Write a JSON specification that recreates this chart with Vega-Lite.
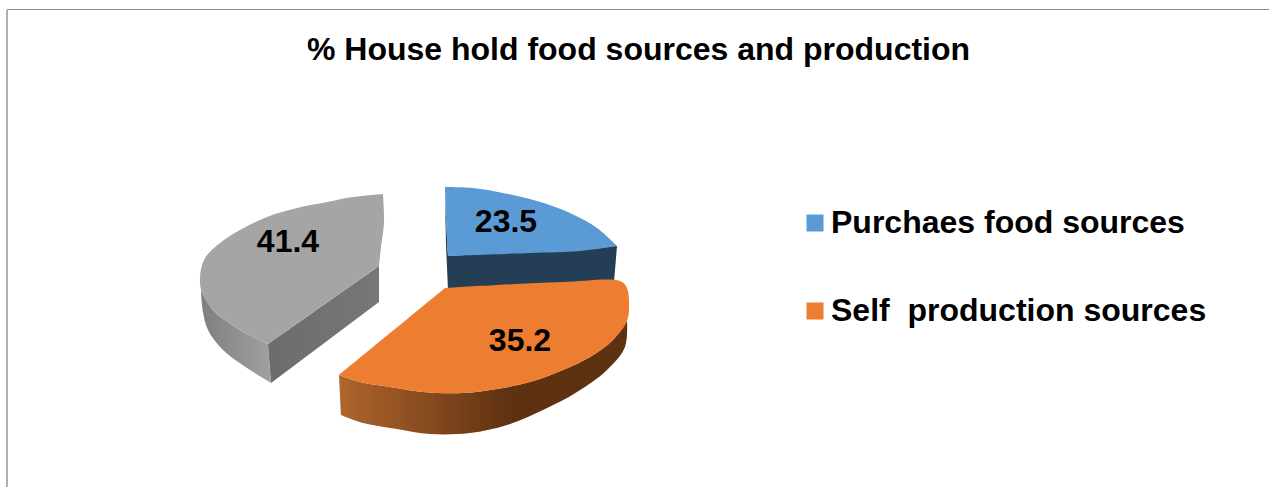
{
  "$schema": "https://vega.github.io/schema/vega-lite/v6.json",
  "width": 1269,
  "height": 487,
  "padding": 0,
  "autosize": "none",
  "background": "#ffffff",
  "view": {"stroke": null},
  "title": {
    "text": "% House hold food sources and production",
    "anchor": "middle",
    "font": "Liberation Sans",
    "fontSize": 32,
    "fontWeight": "bold",
    "color": "#000000",
    "frame": "group",
    "offset": 0,
    "dx": 4,
    "dy": 67
  },
  "datasets": {
    "frame": [
      {"x": 7, "y": 10, "y2": 487},
      {"x": 7, "x2": 1269, "y": 9.5}
    ],
    "slices": [
      {"source": "Purchaes food sources", "value": 23.5, "x": 506, "y": 222},
      {"source": "Self  production sources", "value": 35.2, "x": 520, "y": 341},
      {"source": "Other", "value": 41.4, "x": 288, "y": 242}
    ],
    "outlines": [
      {"source": "Other", "face": "outer", "i": 1, "x": 201, "y": 290},
      {"source": "Other", "face": "outer", "i": 2, "x": 213, "y": 310},
      {"source": "Other", "face": "outer", "i": 3, "x": 240, "y": 330},
      {"source": "Other", "face": "outer", "i": 4, "x": 268, "y": 344},
      {"source": "Other", "face": "outer", "i": 5, "x": 268, "y": 344},
      {"source": "Other", "face": "outer", "i": 6, "x": 271, "y": 383},
      {"source": "Other", "face": "outer", "i": 7, "x": 271, "y": 383},
      {"source": "Other", "face": "outer", "i": 8, "x": 247, "y": 368},
      {"source": "Other", "face": "outer", "i": 9, "x": 223, "y": 350},
      {"source": "Other", "face": "outer", "i": 10, "x": 208, "y": 330},
      {"source": "Other", "face": "outer", "i": 11, "x": 203, "y": 312},
      {"source": "Other", "face": "outer", "i": 12, "x": 201, "y": 290},

      {"source": "Other", "face": "cut", "i": 1, "x": 268, "y": 344},
      {"source": "Other", "face": "cut", "i": 2, "x": 379, "y": 266},
      {"source": "Other", "face": "cut", "i": 3, "x": 379, "y": 302},
      {"source": "Other", "face": "cut", "i": 4, "x": 271, "y": 383},

      {"source": "Other", "face": "top", "i": 1, "x": 383, "y": 194},
      {"source": "Other", "face": "top", "i": 2, "x": 383, "y": 194},
      {"source": "Other", "face": "top", "i": 3, "x": 353, "y": 197},
      {"source": "Other", "face": "top", "i": 4, "x": 327, "y": 202},
      {"source": "Other", "face": "top", "i": 5, "x": 297, "y": 208},
      {"source": "Other", "face": "top", "i": 6, "x": 267, "y": 217},
      {"source": "Other", "face": "top", "i": 7, "x": 240, "y": 230},
      {"source": "Other", "face": "top", "i": 8, "x": 220, "y": 243},
      {"source": "Other", "face": "top", "i": 9, "x": 205, "y": 258},
      {"source": "Other", "face": "top", "i": 10, "x": 200, "y": 277},
      {"source": "Other", "face": "top", "i": 11, "x": 202, "y": 293},
      {"source": "Other", "face": "top", "i": 12, "x": 213, "y": 310},
      {"source": "Other", "face": "top", "i": 13, "x": 240, "y": 330},
      {"source": "Other", "face": "top", "i": 14, "x": 268, "y": 344},
      {"source": "Other", "face": "top", "i": 15, "x": 268, "y": 344},
      {"source": "Other", "face": "top", "i": 16, "x": 379, "y": 266},
      {"source": "Other", "face": "top", "i": 17, "x": 379, "y": 266},
      {"source": "Other", "face": "top", "i": 18, "x": 381, "y": 247},
      {"source": "Other", "face": "top", "i": 19, "x": 384, "y": 223},
      {"source": "Other", "face": "top", "i": 20, "x": 383, "y": 194},

      {"source": "Purchaes food sources", "face": "cut", "i": 1, "x": 445, "y": 200},
      {"source": "Purchaes food sources", "face": "cut", "i": 2, "x": 448, "y": 256},
      {"source": "Purchaes food sources", "face": "cut", "i": 3, "x": 617, "y": 246},
      {"source": "Purchaes food sources", "face": "cut", "i": 4, "x": 614, "y": 282},
      {"source": "Purchaes food sources", "face": "cut", "i": 5, "x": 448, "y": 290},
      {"source": "Purchaes food sources", "face": "cut", "i": 6, "x": 446, "y": 245},

      {"source": "Purchaes food sources", "face": "top", "i": 1, "x": 445, "y": 187},
      {"source": "Purchaes food sources", "face": "top", "i": 2, "x": 445, "y": 187},
      {"source": "Purchaes food sources", "face": "top", "i": 3, "x": 473, "y": 188},
      {"source": "Purchaes food sources", "face": "top", "i": 4, "x": 503, "y": 193},
      {"source": "Purchaes food sources", "face": "top", "i": 5, "x": 537, "y": 201},
      {"source": "Purchaes food sources", "face": "top", "i": 6, "x": 570, "y": 213},
      {"source": "Purchaes food sources", "face": "top", "i": 7, "x": 597, "y": 228},
      {"source": "Purchaes food sources", "face": "top", "i": 8, "x": 617, "y": 246},
      {"source": "Purchaes food sources", "face": "top", "i": 9, "x": 617, "y": 246},
      {"source": "Purchaes food sources", "face": "top", "i": 10, "x": 580, "y": 251},
      {"source": "Purchaes food sources", "face": "top", "i": 11, "x": 530, "y": 253},
      {"source": "Purchaes food sources", "face": "top", "i": 12, "x": 448, "y": 256},
      {"source": "Purchaes food sources", "face": "top", "i": 13, "x": 448, "y": 256},
      {"source": "Purchaes food sources", "face": "top", "i": 14, "x": 446, "y": 220},
      {"source": "Purchaes food sources", "face": "top", "i": 15, "x": 445, "y": 187},

      {"source": "Self  production sources", "face": "outer", "i": 1, "x": 339, "y": 375},
      {"source": "Self  production sources", "face": "outer", "i": 2, "x": 339, "y": 375},
      {"source": "Self  production sources", "face": "outer", "i": 3, "x": 360, "y": 382},
      {"source": "Self  production sources", "face": "outer", "i": 4, "x": 390, "y": 387},
      {"source": "Self  production sources", "face": "outer", "i": 5, "x": 423, "y": 392},
      {"source": "Self  production sources", "face": "outer", "i": 6, "x": 463, "y": 393},
      {"source": "Self  production sources", "face": "outer", "i": 7, "x": 497, "y": 389},
      {"source": "Self  production sources", "face": "outer", "i": 8, "x": 530, "y": 382},
      {"source": "Self  production sources", "face": "outer", "i": 9, "x": 563, "y": 370},
      {"source": "Self  production sources", "face": "outer", "i": 10, "x": 590, "y": 357},
      {"source": "Self  production sources", "face": "outer", "i": 11, "x": 613, "y": 340},
      {"source": "Self  production sources", "face": "outer", "i": 12, "x": 627, "y": 321},
      {"source": "Self  production sources", "face": "outer", "i": 13, "x": 627, "y": 321},
      {"source": "Self  production sources", "face": "outer", "i": 14, "x": 625, "y": 347},
      {"source": "Self  production sources", "face": "outer", "i": 15, "x": 607, "y": 370},
      {"source": "Self  production sources", "face": "outer", "i": 16, "x": 577, "y": 392},
      {"source": "Self  production sources", "face": "outer", "i": 17, "x": 543, "y": 410},
      {"source": "Self  production sources", "face": "outer", "i": 18, "x": 507, "y": 425},
      {"source": "Self  production sources", "face": "outer", "i": 19, "x": 470, "y": 433},
      {"source": "Self  production sources", "face": "outer", "i": 20, "x": 430, "y": 434},
      {"source": "Self  production sources", "face": "outer", "i": 21, "x": 397, "y": 429},
      {"source": "Self  production sources", "face": "outer", "i": 22, "x": 363, "y": 423},
      {"source": "Self  production sources", "face": "outer", "i": 23, "x": 341, "y": 415},
      {"source": "Self  production sources", "face": "outer", "i": 24, "x": 341, "y": 415},
      {"source": "Self  production sources", "face": "outer", "i": 25, "x": 339, "y": 375},

      {"source": "Self  production sources", "face": "top", "i": 1, "x": 445, "y": 288},
      {"source": "Self  production sources", "face": "top", "i": 2, "x": 445, "y": 288},
      {"source": "Self  production sources", "face": "top", "i": 3, "x": 497, "y": 285},
      {"source": "Self  production sources", "face": "top", "i": 4, "x": 563, "y": 282},
      {"source": "Self  production sources", "face": "top", "i": 5, "x": 620, "y": 281},
      {"source": "Self  production sources", "face": "top", "i": 6, "x": 627, "y": 288},
      {"source": "Self  production sources", "face": "top", "i": 7, "x": 629, "y": 303},
      {"source": "Self  production sources", "face": "top", "i": 8, "x": 627, "y": 321},
      {"source": "Self  production sources", "face": "top", "i": 9, "x": 613, "y": 340},
      {"source": "Self  production sources", "face": "top", "i": 10, "x": 590, "y": 357},
      {"source": "Self  production sources", "face": "top", "i": 11, "x": 563, "y": 370},
      {"source": "Self  production sources", "face": "top", "i": 12, "x": 530, "y": 382},
      {"source": "Self  production sources", "face": "top", "i": 13, "x": 497, "y": 389},
      {"source": "Self  production sources", "face": "top", "i": 14, "x": 463, "y": 393},
      {"source": "Self  production sources", "face": "top", "i": 15, "x": 423, "y": 392},
      {"source": "Self  production sources", "face": "top", "i": 16, "x": 390, "y": 387},
      {"source": "Self  production sources", "face": "top", "i": 17, "x": 360, "y": 382},
      {"source": "Self  production sources", "face": "top", "i": 18, "x": 339, "y": 375},
      {"source": "Self  production sources", "face": "top", "i": 19, "x": 339, "y": 375},
      {"source": "Self  production sources", "face": "top", "i": 20, "x": 445, "y": 288}
    ]
  },
  "encoding": {
    "x": {"field": "x", "type": "quantitative", "axis": null, "scale": {"domain": [0, 1269], "nice": false, "zero": false}},
    "y": {"field": "y", "type": "quantitative", "axis": null, "scale": {"domain": [487, 0], "nice": false, "zero": false}}
  },
  "layer": [
    {
      "data": {"name": "outlines"},
      "transform": [{"filter": "datum.source === 'Other' && datum.face === 'outer'"}],
      "mark": {
        "type": "line", "filled": true, "strokeWidth": 0, "interpolate": "catmull-rom",
        "fill": {"gradient": "linear", "x1": 0, "y1": 0, "x2": 1, "y2": 0,
          "stops": [{"offset": 0, "color": "#7f7f7f"}, {"offset": 1, "color": "#a0a0a0"}]}
      },
      "encoding": {"order": {"field": "i", "type": "quantitative"}}
    },
    {
      "data": {"name": "outlines"},
      "transform": [{"filter": "datum.source === 'Other' && datum.face === 'cut'"}],
      "mark": {
        "type": "line", "filled": true, "strokeWidth": 0,
        "fill": {"gradient": "linear", "x1": 0, "y1": 0, "x2": 1, "y2": 0,
          "stops": [{"offset": 0, "color": "#6c6c6c"}, {"offset": 1, "color": "#777777"}]}
      },
      "encoding": {"order": {"field": "i", "type": "quantitative"}}
    },
    {
      "data": {"name": "outlines"},
      "transform": [{"filter": "datum.source === 'Purchaes food sources' && datum.face === 'cut'"}],
      "mark": {"type": "line", "filled": true, "strokeWidth": 0, "fill": "#243f55"},
      "encoding": {"order": {"field": "i", "type": "quantitative"}}
    },
    {
      "data": {"name": "outlines"},
      "transform": [{"filter": "datum.source === 'Self  production sources' && datum.face === 'outer'"}],
      "mark": {
        "type": "line", "filled": true, "strokeWidth": 0, "interpolate": "catmull-rom",
        "fill": {"gradient": "linear", "x1": 0, "y1": 0, "x2": 1, "y2": 0,
          "stops": [{"offset": 0, "color": "#b0652c"}, {"offset": 0.6, "color": "#5e3111"}, {"offset": 1, "color": "#5e3111"}]}
      },
      "encoding": {"order": {"field": "i", "type": "quantitative"}}
    },
    {
      "data": {"name": "outlines"},
      "transform": [{"filter": "datum.face === 'top'"}],
      "mark": {"type": "line", "filled": true, "strokeWidth": 0, "interpolate": "catmull-rom"},
      "encoding": {
        "order": {"field": "i", "type": "quantitative"},
        "color": {
          "field": "source",
          "type": "nominal",
          "scale": {
            "domain": ["Purchaes food sources", "Self  production sources", "Other"],
            "range": ["#5b9bd5", "#ed7d31", "#a5a5a5"]
          },
          "legend": {
            "values": ["Purchaes food sources", "Self  production sources"],
            "labelExpr": "replace(datum.label, '  ', ' \u00a0')",
            "title": null,
            "orient": "none",
            "legendX": 799,
            "legendY": 205,
            "symbolType": "square",
            "symbolSize": 289,
            "symbolStrokeWidth": 0,
            "labelFont": "Liberation Sans",
            "labelFontSize": 32,
            "labelFontWeight": "bold",
            "labelColor": "#000000",
            "labelLimit": 460,
            "labelOffset": 0,
            "rowPadding": 52,
            "clipHeight": 36
          }
        }
      }
    },
    {
      "data": {"name": "slices"},
      "mark": {"type": "text", "font": "Liberation Sans", "fontSize": 32, "fontWeight": "bold", "color": "#000000", "align": "center", "baseline": "middle"},
      "encoding": {"text": {"field": "value", "type": "quantitative", "format": ".1f"}}
    },
    {
      "data": {"name": "frame"},
      "transform": [{"filter": "isValid(datum.y2)"}],
      "mark": {"type": "rule", "color": "#b0b0b0", "strokeWidth": 2},
      "encoding": {"y2": {"field": "y2"}}
    },
    {
      "data": {"name": "frame"},
      "transform": [{"filter": "isValid(datum.x2)"}],
      "mark": {"type": "rule", "color": "#8c8c8c", "strokeWidth": 1},
      "encoding": {"x2": {"field": "x2"}}
    }
  ]
}
